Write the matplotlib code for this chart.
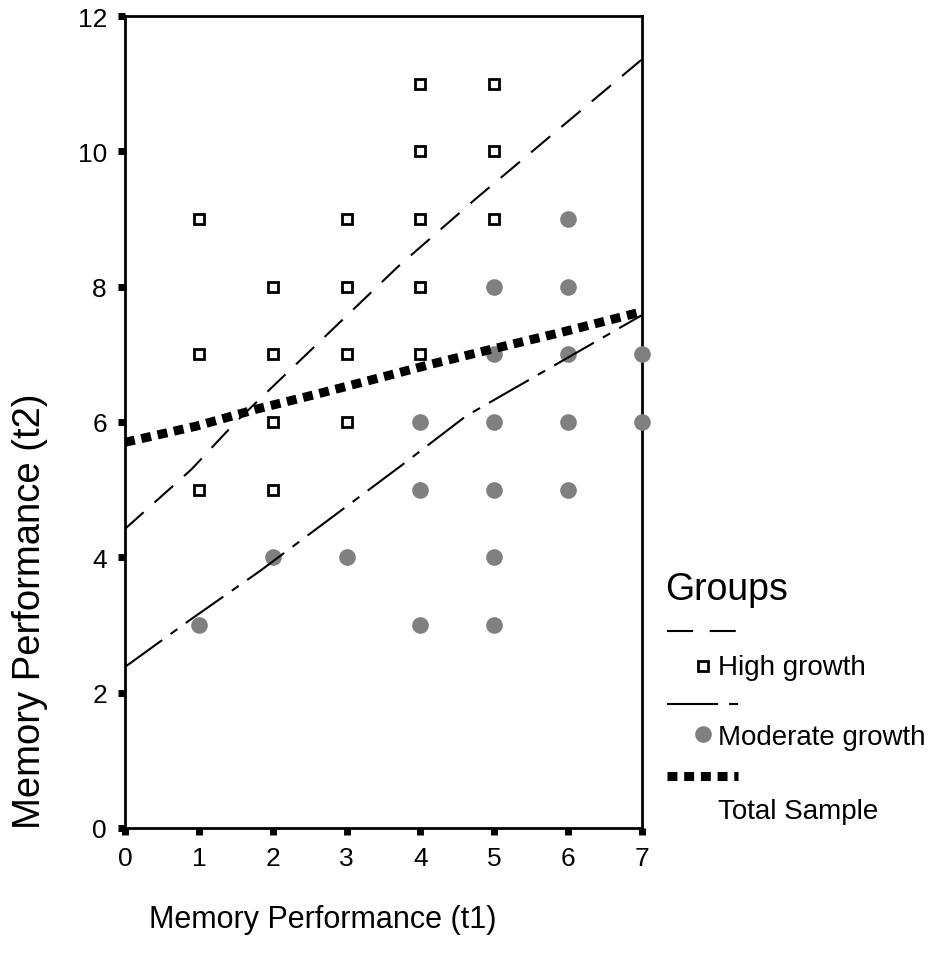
import matplotlib
matplotlib.use("Agg")
import matplotlib.pyplot as plt
from matplotlib.lines import Line2D

plt.rcParams['font.family'] = ['Liberation Sans', 'DejaVu Sans']

# scatter data
high_x = [1, 1, 1, 2, 2, 2, 2, 3, 3, 3, 3, 4, 4, 4, 4, 4, 5, 5, 5]
high_y = [9, 7, 5, 8, 7, 6, 5, 9, 8, 7, 6, 11, 10, 9, 8, 7, 11, 10, 9]
mod_x = [1, 2, 3, 4, 4, 4, 5, 5, 5, 5, 5, 5, 6, 6, 6, 6, 6, 7, 7]
mod_y = [3, 4, 4, 6, 5, 3, 8, 7, 6, 5, 4, 3, 9, 8, 7, 6, 5, 7, 6]

# fit lines
high_fit_x = [0, 0.9, 1.5, 3.7, 4.75, 7]
high_fit_y = [4.42, 5.3, 6.0, 8.3, 9.3, 11.36]
mod_fit_x = [0, 0.9, 1.83, 3.77, 4.62, 7]
mod_fit_y = [2.38, 3.09, 3.8, 5.38, 6.09, 7.58]
tot_fit_x = [0, 0.97, 1.78, 2.59, 3.54, 4.13, 4.98, 5.89, 7]
tot_fit_y = [5.70, 5.94, 6.19, 6.41, 6.68, 6.85, 7.08, 7.32, 7.63]

W, H = 944, 978
fig = plt.figure(figsize=(W / 100, H / 100), dpi=100)
ax = fig.add_axes([125 / W, 1 - 829 / H, (642 - 125) / W, (829 - 17) / H])

ax.plot(high_x, high_y, 's', ms=7.5, mfc='white', mec='black', mew=2,
        zorder=3, clip_on=False)
ax.plot(mod_x, mod_y, 'o', ms=12, color='#808080', mec='none', zorder=3,
        clip_on=False)

ax.plot(high_fit_x, high_fit_y, color='black', lw=1.5, ls=(0, (12, 7)), zorder=4)
ax.plot(mod_fit_x, mod_fit_y, color='black', lw=1.5, ls=(0, (22, 5, 4, 5)), zorder=4)
ax.plot(tot_fit_x, tot_fit_y, color='black', lw=6.5, ls=(0, (1.1, 0.75)),
        solid_capstyle='butt', dash_capstyle='butt', zorder=5)

ax.set_xlim(0, 7)
ax.set_ylim(0, 12)
ax.set_xticks(range(0, 8))
ax.set_yticks(range(0, 13, 2))
ax.tick_params(direction='out', length=5, width=5, labelsize=19)
ax.tick_params(axis='x', pad=8)
ax.tick_params(axis='y', pad=8)
for s in ax.spines.values():
    s.set_linewidth(2)

fig.text(323 / W, 1 - 920 / H, 'Memory Performance (t1)', fontsize=22,
         ha='center', va='center')
fig.text(30 / W, 1 - 611 / H, 'Memory Performance (t2)', fontsize=27.5,
         ha='center', va='center', rotation=90)

# legend, drawn by hand to follow the stacked layout
def fx(px):
    return px / W

def fy(py):
    return 1 - py / H

fig.text(fx(665), fy(590), 'Groups', fontsize=27, ha='left', va='center')
fig.add_artist(Line2D([fx(667), fx(738)], [fy(632), fy(632)], color='black',
                      lw=1.5, ls=(0, (12.5, 8))))
fig.add_artist(Line2D([fx(703)], [fy(667)], marker='s', ms=7.5, mfc='white',
                      mec='black', mew=2, ls='none'))
fig.text(fx(718), fy(668), 'High growth', fontsize=20, ha='left', va='center')
fig.add_artist(Line2D([fx(667), fx(738)], [fy(705), fy(705)], color='black',
                      lw=1.5, ls=(0, (24.5, 5.3, 4.3, 5))))
fig.add_artist(Line2D([fx(703)], [fy(735)], marker='o', ms=12, color='#808080',
                      mec='none', ls='none'))
fig.text(fx(718), fy(738), 'Moderate growth', fontsize=20, ha='left', va='center')
fig.add_artist(Line2D([fx(667), fx(738)], [fy(777), fy(777)], color='black',
                      lw=6.5, ls=(0, (1.1, 0.75)), dash_capstyle='butt'))
fig.text(fx(718), fy(812), 'Total Sample', fontsize=20, ha='left', va='center')

fig.savefig('out.png', dpi=100, facecolor='white')
